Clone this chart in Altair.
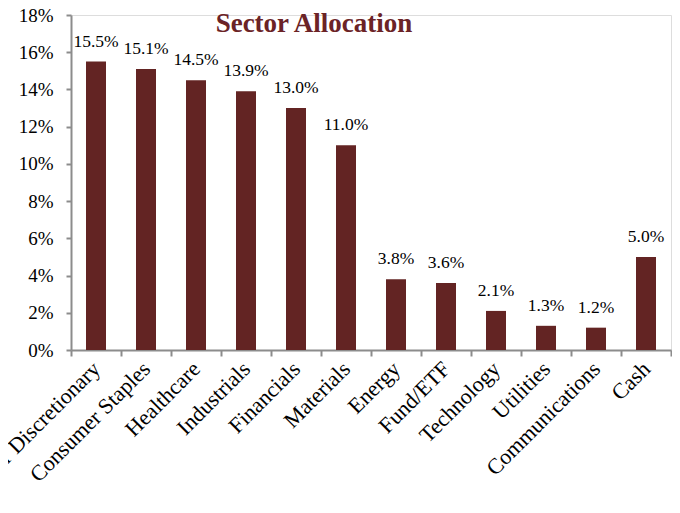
import altair as alt
import pandas as pd

sectors = ["Consumer Discretionary", "Consumer Staples", "Healthcare", "Industrials",
           "Financials", "Materials", "Energy", "Fund/ETF", "Technology", "Utilities",
           "Communications", "Cash"]
values = [15.5, 15.1, 14.5, 13.9, 13.0, 11.0, 3.8, 3.6, 2.1, 1.3, 1.2, 5.0]
y_ticks = [0, 2, 4, 6, 8, 10, 12, 14, 16, 18]

df = pd.DataFrame({"sector": sectors, "value": [v / 100 for v in values]})
df["label"] = [f"{v:.1f}%" for v in values]

FONT = "Liberation Serif"
BAR = "#632423"
AX = "#8c8c8c"

x = alt.X("sector:N", sort=sectors, title=None,
          scale=alt.Scale(paddingInner=0, paddingOuter=0),
          axis=alt.Axis(labelAngle=-45, labelAlign="right", labelBaseline="middle",
                        labelFont=FONT, labelFontSize=22, labelColor="black",
                        labelPadding=9, tickBand="extent", tickSize=6,
                        labelOverlap=False, labelLimit=500,
                        tickColor=AX, domainColor=AX, domainWidth=2, tickWidth=2))
y = alt.Y("value:Q", title=None,
          scale=alt.Scale(domain=[0, 0.18]),
          axis=alt.Axis(format=".0%", values=[t / 100 for t in y_ticks],
                        labelFont=FONT, labelFontSize=19, labelColor="black",
                        labelOverlap=False,
                        labelPadding=13, tickSize=5, tickColor=AX, domainColor=AX,
                        domainWidth=2, tickWidth=2, grid=False))

bars = alt.Chart(df).mark_bar(color=BAR, width=alt.RelativeBandSize(0.4)).encode(x=x, y=y)
labels = alt.Chart(df).mark_text(font=FONT, fontSize=17.5, color="black",
                                 baseline="alphabetic", dy=-15).encode(
    x=x, y=y, text="label:N")

title_df = pd.DataFrame({"t": ["Sector Allocation"]})
title = alt.Chart(title_df).mark_text(font=FONT, fontSize=27, fontWeight="bold",
                                      color="#6B2326", align="center",
                                      baseline="alphabetic").encode(
    x=alt.value(243), y=alt.value(16.5), text="t:N")

chart = alt.layer(bars, labels, title).properties(
    width=600, height=335,
    autosize=alt.AutoSizeParams(type="none"),
    padding={"left": 63, "top": 7, "right": 1, "bottom": 160},
).configure_view(stroke=None).configure(background="white")

chart.save("out.html", embed_options={"renderer": "svg", "actions": False})
